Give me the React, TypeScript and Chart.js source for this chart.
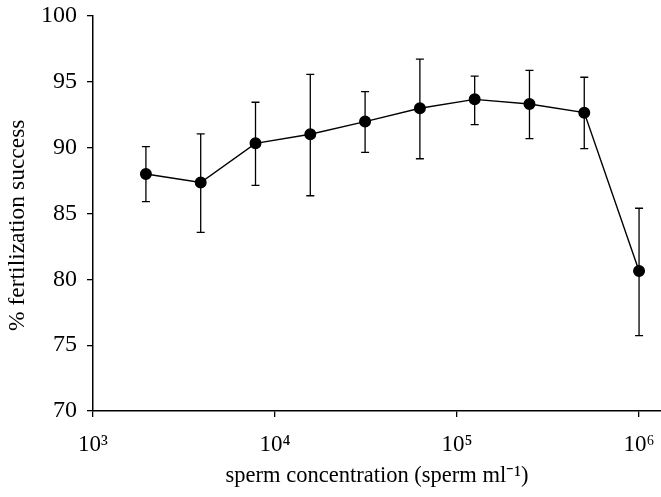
import React, { useEffect, useRef } from "react";
import { Chart, registerables } from "chart.js";

Chart.register(...registerables);

const xValues = [1953, 3906, 7813, 15625, 31250, 62500, 125000, 250000, 500000, 1000000];
const meanValues = [88.0, 87.35, 90.33, 91.02, 91.98, 92.99, 93.67, 93.32, 92.66, 80.64];
const upperValues = [90.08, 91.04, 93.45, 95.57, 94.25, 96.73, 95.44, 95.87, 95.35, 85.4];
const lowerValues = [85.9, 83.57, 87.14, 86.35, 89.65, 89.16, 91.75, 90.68, 89.92, 75.73];
const xTickValues = [1000, 10000, 100000, 1000000];
const xTickLabels = ["10³", "10⁴", "10⁵", "10⁶"];
const xTitle = "sperm concentration (sperm ml⁻¹)";
const yTitle = "% fertilization success\u00A0\u00A0\u00A0\u00A0";

const FONT = "'Liberation Serif', 'Times New Roman', serif";

const errorBarPlugin = {
  id: "errorBars",
  beforeDatasetsDraw(chart: any) {
    const ctx = chart.ctx;
    const xs = chart.scales.x;
    const ys = chart.scales.y;
    ctx.save();
    ctx.strokeStyle = "#000";
    ctx.lineWidth = 1.3;
    for (let i = 0; i < xValues.length; i++) {
      const px = xs.getPixelForValue(xValues[i]);
      const pTop = ys.getPixelForValue(upperValues[i]);
      const pBot = ys.getPixelForValue(lowerValues[i]);
      ctx.beginPath();
      ctx.moveTo(px, pTop);
      ctx.lineTo(px, pBot);
      ctx.moveTo(px - 4, pTop);
      ctx.lineTo(px + 4, pTop);
      ctx.moveTo(px - 4, pBot);
      ctx.lineTo(px + 4, pBot);
      ctx.stroke();
    }
    ctx.restore();
  },
};

export default function App() {
  const ref = useRef<HTMLCanvasElement | null>(null);
  useEffect(() => {
    if (!ref.current) return;
    const chart = new Chart(ref.current, {
      type: "line",
      data: {
        datasets: [
          {
            data: xValues.map((x, i) => ({ x, y: meanValues[i] })),
            borderColor: "#000",
            backgroundColor: "#000",
            borderWidth: 1.4,
            pointRadius: 5.3,
            pointBackgroundColor: "#000",
            pointBorderColor: "#000",
            tension: 0,
          },
        ],
      },
      options: {
        animation: false,
        responsive: false,
        maintainAspectRatio: false,
        layout: { autoPadding: false, padding: { top: 16, right: 0, left: 0, bottom: 0 } },
        plugins: { legend: { display: false }, tooltip: { enabled: false } },
        scales: {
          x: {
            type: "logarithmic",
            min: 1000,
            max: 1320000,
            afterBuildTicks: (scale: any) => {
              scale.ticks = xTickValues.map((v) => ({ value: v }));
            },
            afterFit: (scale: any) => {
              scale.height = 86;
              scale.paddingRight = 0;
              scale.paddingLeft = 0;
            },
            ticks: {
              autoSkip: false,
              maxRotation: 0,
              color: "#000",
              padding: 14,
              font: { family: FONT, size: 23 },
              callback: (v: any) => {
                const idx = xTickValues.indexOf(Number(v));
                return idx >= 0 ? xTickLabels[idx] : "";
              },
            },
            grid: {
              display: true,
              drawOnChartArea: false,
              drawTicks: true,
              tickLength: 6,
              color: "#000",
              lineWidth: 1.3,
            },
            border: { display: true, color: "#000", width: 1.5 },
            title: {
              display: true,
              text: xTitle,
              color: "#000",
              font: { family: FONT, size: 22.5 },
              padding: { top: 0, bottom: 7 },
            },
          },
          y: {
            type: "linear",
            min: 70,
            max: 100,
            afterFit: (scale: any) => {
              scale.width = 93;
              scale.paddingTop = 0;
              scale.paddingBottom = 0;
            },
            ticks: {
              stepSize: 5,
              color: "#000",
              padding: 10,
              font: { family: FONT, size: 24 },
            },
            grid: {
              display: true,
              drawOnChartArea: false,
              drawTicks: true,
              tickLength: 6,
              color: "#000",
              lineWidth: 1.3,
            },
            border: { display: true, color: "#000", width: 1.5 },
            title: {
              display: true,
              text: yTitle,
              color: "#000",
              font: { family: FONT, size: 23.5 },
              padding: { top: 3.5, bottom: 0 },
            },
          },
        },
      },
      plugins: [errorBarPlugin],
    } as any);
    return () => chart.destroy();
  }, []);
  return (
    <div style={{ position: "fixed", left: 0, top: 0, width: 661, height: 497, background: "#fff" }}>
      <canvas ref={ref} width={661} height={497} style={{ width: 661, height: 497 }} />
    </div>
  );
}
